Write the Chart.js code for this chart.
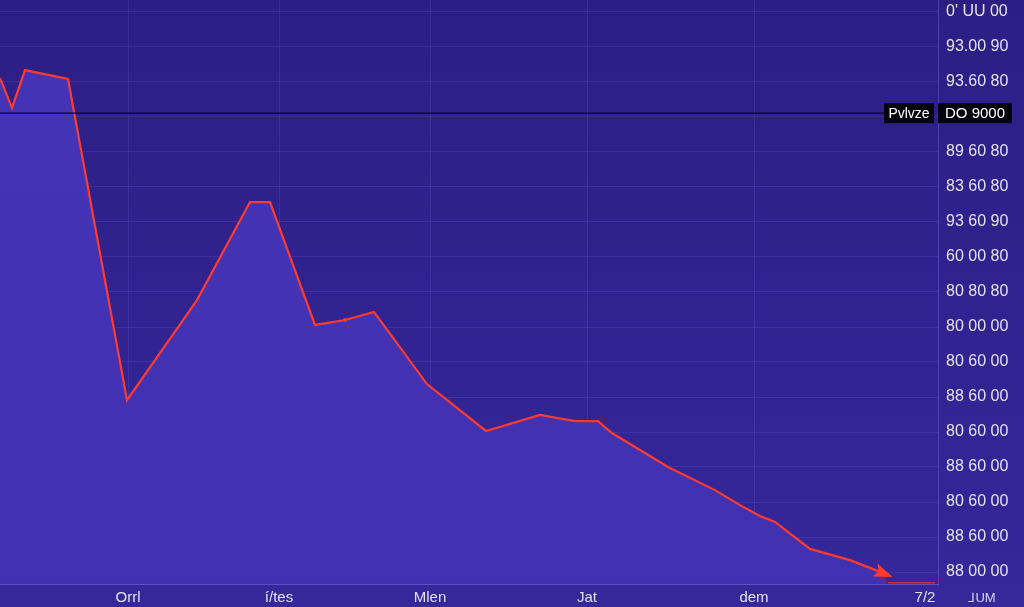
<!DOCTYPE html>
<html>
<head>
<meta charset="utf-8">
<title>Price chart</title>
<script src="https://cdn.jsdelivr.net/npm/chart.js"></script>
<style>
  html, body { margin: 0; padding: 0; background: #2e1f88; overflow: hidden; }
  #wrap { width: 1024px; height: 607px; position: relative; }
</style>
</head>
<body>
<div id="wrap"><canvas id="priceChart"></canvas></div>
<script>
// series (x = time position, y = price level in grid steps)
const timePos = [0, 12, 25, 68, 127, 197, 250, 270, 315, 345, 374, 427, 486, 540, 575, 598, 605, 612, 668, 715, 740, 760, 775, 810, 850, 886];
const priceVals = [14.11, 13.26, 14.34, 14.09, 4.91, 7.77, 10.57, 10.57, 7.06, 7.2, 7.43, 5.37, 4.03, 4.49, 4.31, 4.31, 4.14, 3.97, 3.0, 2.34, 1.91, 1.6, 1.43, 0.66, 0.34, -0.06];
const tailPos = [888, 935];
const tailVals = [-0.31, -0.31];

const priceLevel = 13.11;
const priceTagLeft = "Pvlvze";
const priceTagRight = "DO 9000";

const xTickPos = [128, 279, 430, 587, 754, 925];
const xTickLabels = ["Orrl", "í/tes", "Mlen", "Jat", "dem", "7/2"];
const cornerLabel = "⅃UM";

const yTickVals = [16, 15, 14, 13, 12, 11, 10, 9, 8, 7, 6, 5, 4, 3, 2, 1, 0];
const yTickLabels = ["0' UU 00", "93.00 90", "93.60 80", "82 60 80", "89 60 80", "83 60 80",
  "93 60 90", "60 00 80", "80 80 80", "80 00 00", "80 60 00", "88 60 00", "80 60 00",
  "88 60 00", "80 60 00", "88 60 00", "88 00 00"];

const FONT = "'Liberation Sans', Arial, sans-serif";
const GRID = "rgba(110, 95, 215, 0.22)";

const bgPlugin = {
  id: "bg",
  beforeDraw(chart) {
    const { ctx, width, height } = chart;
    const g = ctx.createLinearGradient(0, 0, 0, height);
    g.addColorStop(0, "#2c1e84");
    g.addColorStop(1, "#36279b");
    ctx.save();
    ctx.fillStyle = g;
    ctx.fillRect(0, 0, width, height);
    ctx.restore();
  },
  afterDraw(chart) {
    const { ctx, chartArea, scales } = chart;
    const pts = chart.getDatasetMeta(0).data;
    // arrow head at the end of the line
    const a = pts[pts.length - 2], b = pts[pts.length - 1];
    const ang = Math.atan2(b.y - a.y, b.x - a.x);
    ctx.save();
    ctx.translate(b.x + 2, b.y + 1);
    ctx.rotate(ang);
    ctx.fillStyle = "#ff3a2e";
    ctx.beginPath();
    ctx.moveTo(5, 0);
    ctx.lineTo(-14, -7);
    ctx.lineTo(-10, 0);
    ctx.lineTo(-14, 7);
    ctx.closePath();
    ctx.fill();
    ctx.restore();

    // price line and tags
    const py = scales.y.getPixelForValue(priceLevel);
    ctx.save();
    ctx.strokeStyle = "#0b0620";
    ctx.lineWidth = 1.2;
    ctx.beginPath();
    ctx.moveTo(chartArea.left, py);
    ctx.lineTo(chartArea.right - 54, py);
    ctx.stroke();
    ctx.fillStyle = "#05030c";
    ctx.fillRect(chartArea.right - 54, py - 10, 50, 20);
    ctx.fillRect(chartArea.right, py - 10, 74, 20);
    ctx.fillStyle = "#ffffff";
    ctx.font = "14px " + FONT;
    ctx.textBaseline = "middle";
    ctx.textAlign = "center";
    ctx.fillText(priceTagLeft, chartArea.right - 29, py + 1);
    ctx.font = "15px " + FONT;
    ctx.fillText(priceTagRight, chartArea.right + 37, py + 1);

    // corner label
    ctx.fillStyle = "#d9d4f2";
    ctx.font = "13px " + FONT;
    ctx.fillText(cornerLabel, chartArea.right + 44, chartArea.bottom + 14);
    ctx.restore();
  }
};

const ctx = document.getElementById("priceChart").getContext("2d");

new Chart(ctx, {
  type: "line",
  data: {
    datasets: [
      {
        data: timePos.map((x, i) => ({ x, y: priceVals[i] })),
        borderColor: "#ff3a2e",
        borderWidth: 2.2,
        tension: 0,
        pointRadius: (c) => (c.dataIndex === 9 ? 2 : 0),
        pointBackgroundColor: "#ff3a2e",
        pointBorderWidth: 0,
        fill: "start",
        backgroundColor: (c) => {
          const area = c.chart.chartArea;
          if (!area) return "#4331b3";
          const g = c.chart.ctx.createLinearGradient(0, area.top, 0, area.bottom);
          g.addColorStop(0, "#4634b8");
          g.addColorStop(1, "#4130af");
          return g;
        },
      },
      {
        data: tailPos.map((x, i) => ({ x, y: tailVals[i] })),
        borderColor: "rgba(235, 55, 60, 0.75)",
        borderWidth: 1.5,
        pointRadius: 0,
        fill: false,
      },
    ],
  },
  options: {
    responsive: true,
    maintainAspectRatio: false,
    animation: false,
    layout: { padding: 0 },
    plugins: {
      legend: { display: false },
      tooltip: { enabled: false },
    },
    scales: {
      x: {
        type: "linear",
        position: "bottom",
        min: 0,
        max: 938,
        afterBuildTicks: (s) => { s.ticks = xTickPos.map((v) => ({ value: v })); },
        afterFit: (s) => { s.height = 23; s.paddingLeft = 0; s.paddingRight = 0; },
        grid: {
          color: (c) => (c.index === xTickPos.length - 1 ? "rgba(0,0,0,0)" : GRID),
          lineWidth: 1,
          drawTicks: false,
        },
        border: { color: "rgba(125, 105, 230, 0.6)", width: 1 },
        ticks: {
          color: "#e4e0f6",
          font: { family: FONT, size: 15 },
          padding: 5,
          maxRotation: 0,
          autoSkip: false,
          callback: (v) => xTickLabels[xTickPos.indexOf(v)] ?? "",
        },
      },
      y: {
        type: "linear",
        position: "right",
        min: -12 / 35,
        max: 16 + 12 / 35,
        afterBuildTicks: (s) => { s.ticks = yTickVals.map((v) => ({ value: v })); },
        afterFit: (s) => { s.width = 86; s.paddingTop = 0; s.paddingBottom = 0; },
        grid: {
          color: GRID,
          lineWidth: 1,
          drawTicks: false,
        },
        border: { color: "rgba(110, 95, 215, 0.5)", width: 1 },
        ticks: {
          color: "#e4e0f6",
          font: { family: FONT, size: 16 },
          padding: 8,
          autoSkip: false,
          callback: (v) => yTickLabels[yTickVals.indexOf(v)] ?? "",
        },
      },
    },
  },
  plugins: [bgPlugin],
});
</script>
</body>
</html>
